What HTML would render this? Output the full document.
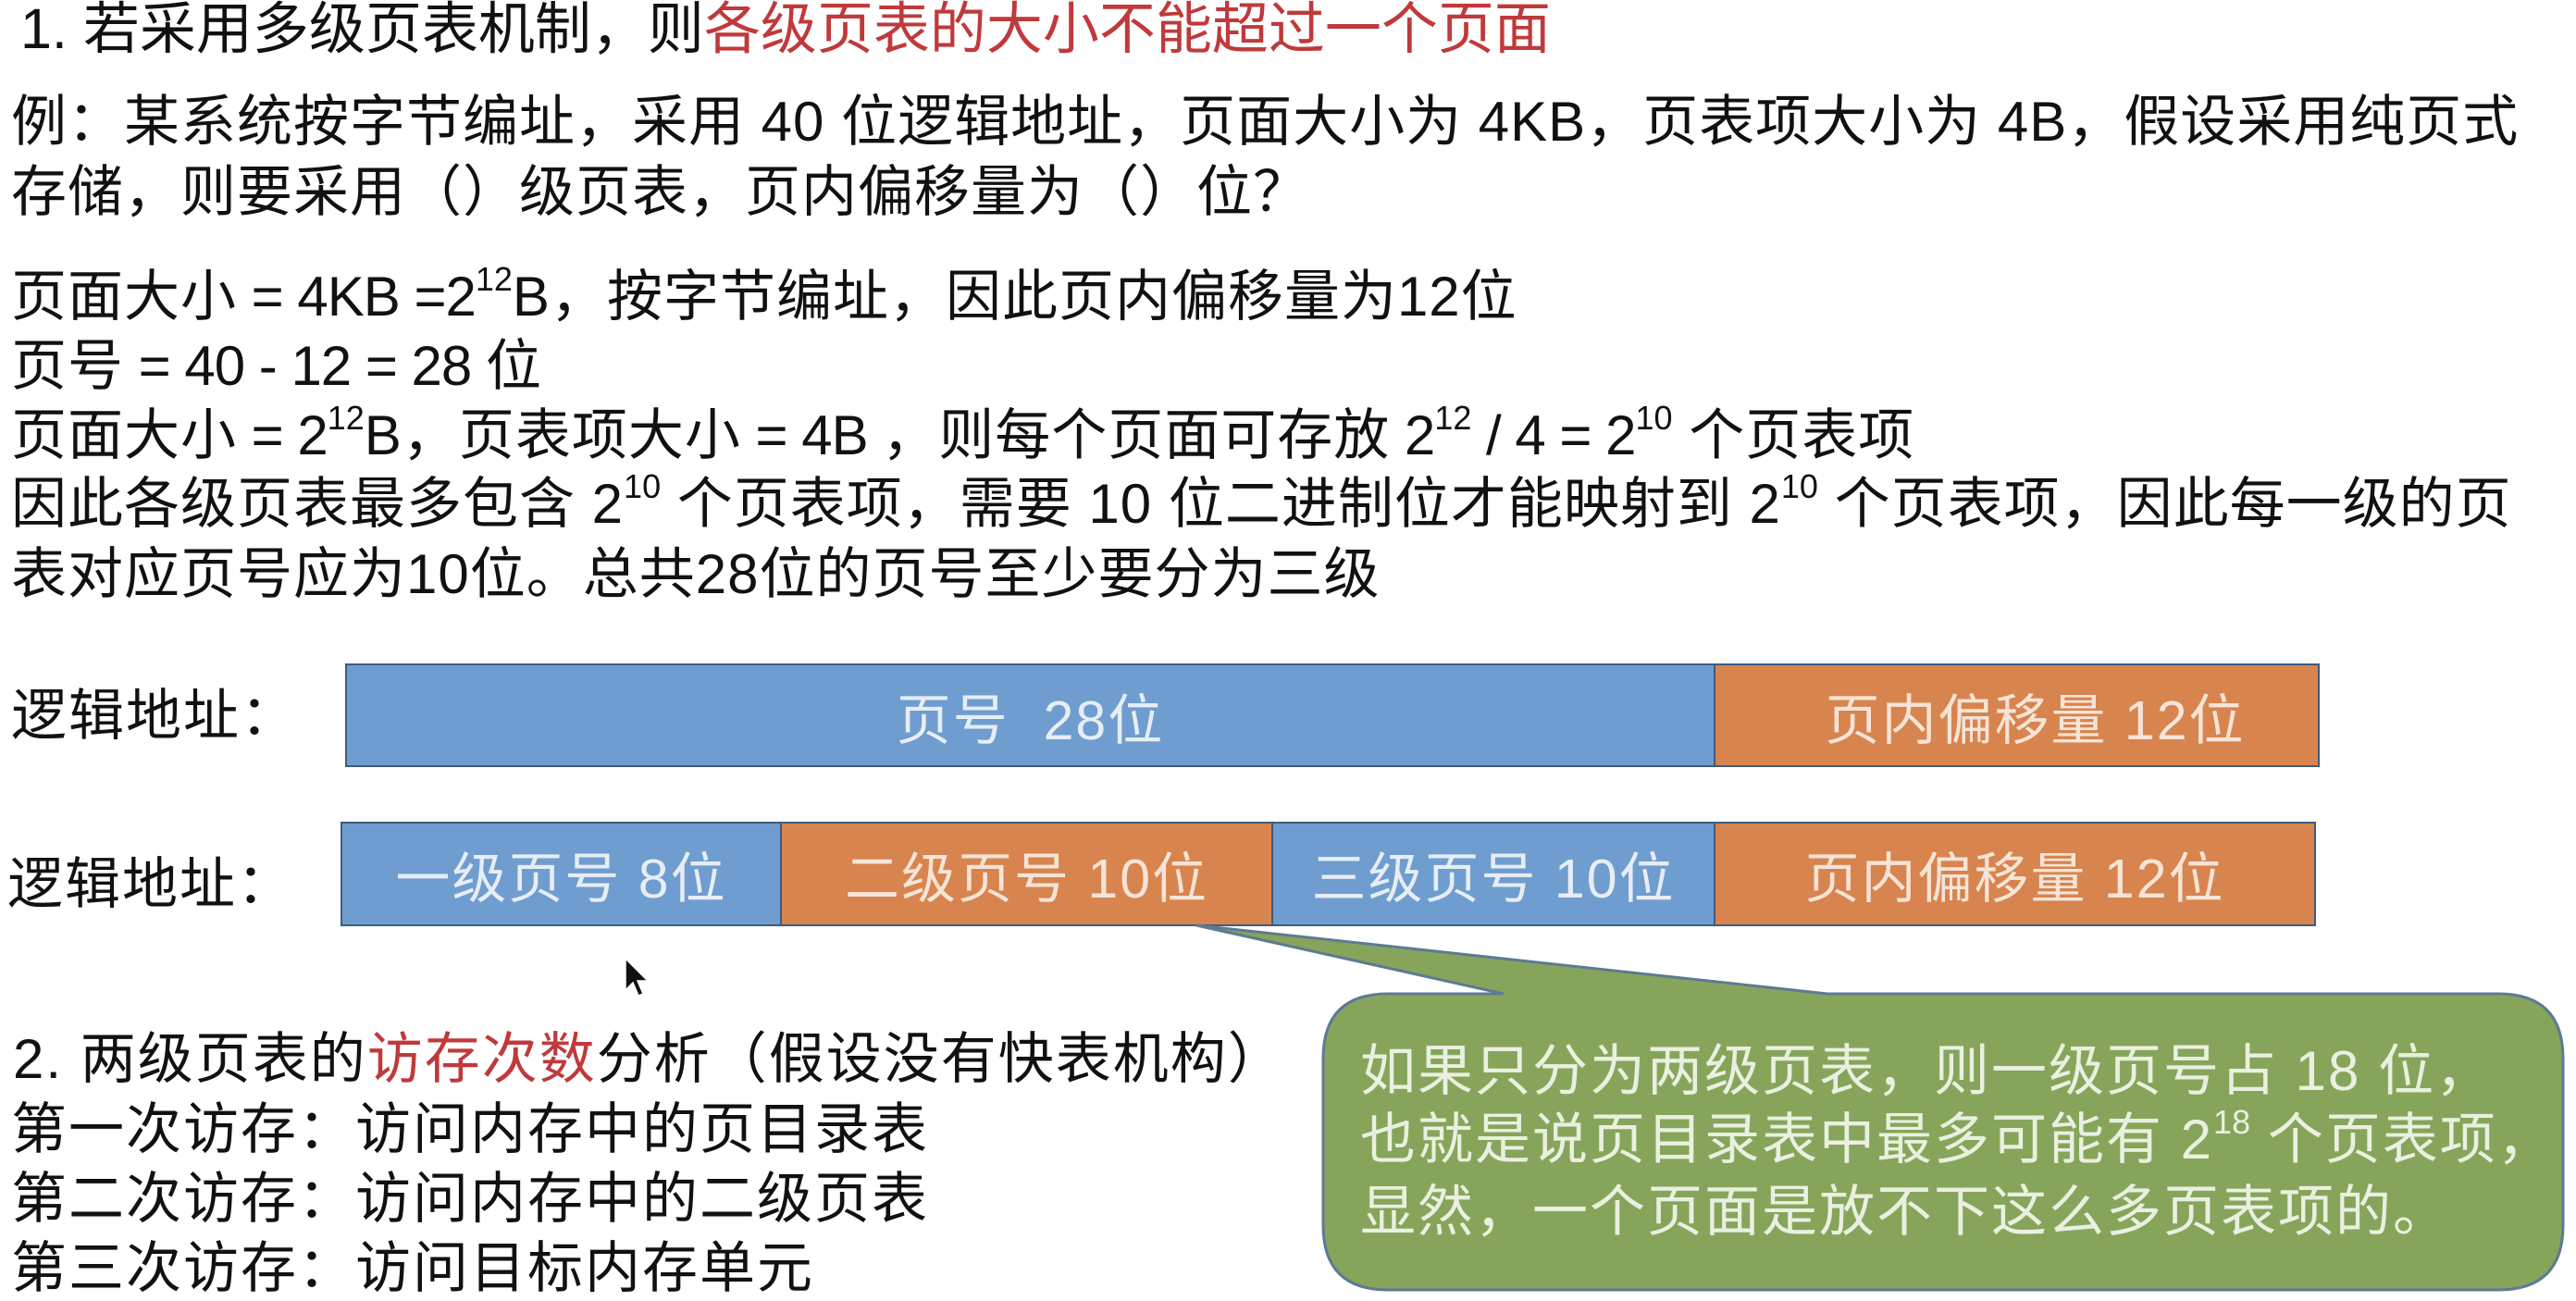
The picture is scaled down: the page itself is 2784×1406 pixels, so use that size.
<!DOCTYPE html>
<html><head><meta charset="utf-8">
<style>
html,body{margin:0;padding:0;}
body{width:2784px;height:1406px;background:#fff;position:relative;overflow:hidden;
font-family:"Liberation Sans","Noto Sans CJK SC",sans-serif;color:#111;}
.t{position:absolute;white-space:nowrap;font-size:60px;line-height:60px;letter-spacing:2px;}
.b{letter-spacing:1px;}
.lat{letter-spacing:-1px;}
.red{color:#c0393b;}
sup{font-size:0.6em;vertical-align:0;position:relative;top:-0.75em;line-height:0;letter-spacing:0;}
.seg{position:absolute;box-sizing:border-box;color:#e6edf5;font-size:59px;letter-spacing:2px;display:flex;align-items:center;justify-content:center;white-space:nowrap;}
.blue{background:#6f9dcf;border:2px solid #3f5b80;}
.orange{background:#d8844f;border:2px solid #3f5b80;color:#f6e4d6;}
</style></head><body>
<div class="t" style="left:22px;top:0px;font-size:61px;line-height:62px;letter-spacing:0;">1. 若采用多级页表机制，则<span class="red">各级页表的大小不能超过一个页面</span></div>
<div class="t b" style="left:12px;top:102px;">例：某系统按字节编址，采用 40 位逻辑地址，页面大小为 4KB，页表项大小为 4B，假设采用纯页式</div>
<div class="t b" style="left:12px;top:178px;">存储，则要采用（）级页表，页内偏移量为（）位？</div>
<div class="t b" style="left:12px;top:291px;">页面大小<span class="lat"> = 4KB =2</span><sup>12</sup>B，按字节编址，因此页内偏移量为12位</div>
<div class="t b" style="left:12px;top:366px;">页号<span class="lat"> = 40 - 12 = 28 </span>位</div>
<div class="t b" style="left:12px;top:441px;">页面大小<span class="lat"> = 2</span><sup>12</sup>B，页表项大小<span class="lat"> = 4B </span>，则每个页面可存放<span class="lat"> 2</span><sup>12</sup><span class="lat"> / 4 = 2</span><sup>10</sup> 个页表项</div>
<div class="t b" style="left:12px;top:515px;">因此各级页表最多包含 2<sup>10</sup> 个页表项，需要 10 位二进制位才能映射到 2<sup>10</sup> 个页表项，因此每一级的页</div>
<div class="t b" style="left:12px;top:591px;">表对应页号应为10位。总共28位的页号至少要分为三级</div>

<div class="t" style="left:12px;top:744px;">逻辑地址：</div>
<div class="seg blue" style="left:373px;top:717px;width:1481px;height:112px;">页号&nbsp;&nbsp;28位</div>
<div class="seg orange" style="left:1852px;top:717px;width:655px;height:112px;padding-left:40px;">页内偏移量 12位</div>

<div class="t" style="left:8px;top:926px;">逻辑地址：</div>
<div class="seg blue" style="left:368px;top:888px;width:477px;height:113px;">一级页号 8位</div>
<div class="seg orange" style="left:843px;top:888px;width:533px;height:113px;">二级页号 10位</div>
<div class="seg blue" style="left:1374px;top:888px;width:480px;height:113px;">三级页号 10位</div>
<div class="seg orange" style="left:1852px;top:888px;width:651px;height:113px;">页内偏移量 12位</div>

<svg style="position:absolute;left:0;top:0" width="2784" height="1406">
<path d="M1500,1074 L1625,1074 L1293,1000 L1975,1074 L2700,1074 Q2770,1074 2770,1144 L2770,1324 Q2770,1394 2700,1394 L1500,1394 Q1430,1394 1430,1324 L1430,1144 Q1430,1074 1500,1074 Z" fill="#86a55b" stroke="#5d7a95" stroke-width="3"/>
<path d="M676,1036 L676,1070 L684,1062 L690,1076 L695,1074 L689,1060 L700,1060 Z" fill="#111" stroke="#fff" stroke-width="1.5"/>
</svg>
<div class="t" style="left:1470px;top:1128px;color:#eaf0e0;">如果只分为两级页表，则一级页号占 18 位，</div>
<div class="t" style="left:1470px;top:1202px;color:#eaf0e0;">也就是说页目录表中最多可能有 2<sup>18</sup> 个页表项，</div>
<div class="t" style="left:1470px;top:1280px;color:#eaf0e0;">显然，一个页面是放不下这么多页表项的。</div>

<div class="t" style="left:14px;top:1115px;">2. 两级页表的<span class="red">访存次数</span>分析（假设没有快表机构）</div>
<div class="t" style="left:12px;top:1191px;">第一次访存：访问内存中的页目录表</div>
<div class="t" style="left:12px;top:1266px;">第二次访存：访问内存中的二级页表</div>
<div class="t" style="left:12px;top:1341px;">第三次访存：访问目标内存单元</div>
</body></html>
